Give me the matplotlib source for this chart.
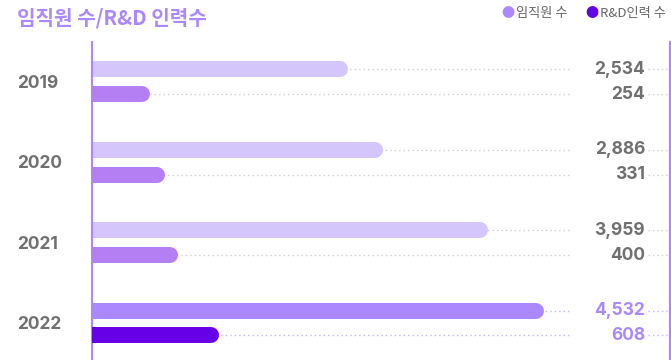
import matplotlib
matplotlib.use("Agg")
import matplotlib.pyplot as plt
from matplotlib.transforms import blended_transform_factory

plt.rcParams['font.family'] = ['Noto Sans CJK KR', 'DejaVu Sans']

years = ["2019", "2020", "2021", "2022"]
employees = [2534, 2886, 3959, 4532]
rnd_staff = [254, 331, 400, 608]
value_labels_emp = ["2,534", "2,886", "3,959", "4,532"]
value_labels_rnd = ["254", "331", "400", "608"]

emp_colors = ["#d4c5fb", "#d4c5fb", "#d4c5fb", "#ab88fd"]
rnd_colors = ["#b47ff2", "#b47ff2", "#b47ff2", "#6600e6"]
text_colors = ["#707070", "#707070", "#707070", "#ab88fd"]
dot_colors = ["#cfcfcf", "#cfcfcf", "#cfcfcf", "#c7b2fc"]

W, H, DPI = 671, 360, 100
fig = plt.figure(figsize=(W / DPI, H / DPI), dpi=DPI)

left_px, right_px, top_px = 92, 670, 42
ax = fig.add_axes([left_px / W, 0, (right_px - left_px) / W, (H - top_px) / H])
ax2 = ax.twiny()
for a in (ax, ax2):
    a.set_ylim(3.46, -0.497)
    a.axis("off")
ax.set_xlim(0, 5900)
ax2.set_xlim(0, 2950)

tr = blended_transform_factory(ax.transAxes, ax.transData)

bar_lw = 16 * 72 / DPI
off = 0.155
dot_end = 0.825
tail_start = 0.962
label_x = 0.957

for i in range(len(years)):
    for y in (i - off, i + off):
        ax.plot([0, dot_end], [y, y], transform=tr, color=dot_colors[i], lw=1.0,
                linestyle=(0, (1, 2.2)), zorder=1, clip_on=False)
        ax.plot([tail_start, 1.0], [y, y], transform=tr, color=dot_colors[i], lw=1.0,
                linestyle=(0, (1, 2.2)), zorder=1, clip_on=False)

    # bars: round cap on the right, clipped flat at the axis line
    ax.plot([0, employees[i]], [i - off, i - off], color=emp_colors[i], lw=bar_lw,
            solid_capstyle="round", zorder=3, clip_on=True)
    ax2.plot([0, rnd_staff[i]], [i + off, i + off], color=rnd_colors[i], lw=bar_lw,
             solid_capstyle="round", zorder=3, clip_on=True)

    ax.text(label_x, i - off, value_labels_emp[i], transform=tr, ha="right", va="center",
            fontsize=12.5, fontweight="bold", color=text_colors[i], family="Inter")
    ax.text(label_x, i + off, value_labels_rnd[i], transform=tr, ha="right", va="center",
            fontsize=12.5, fontweight="bold", color=text_colors[i], family="Inter")

    ax.text(-75 / (right_px - left_px), i + 0.02, years[i], transform=tr, ha="left", va="center",
            fontsize=12.5, fontweight="bold", color="#707070", family="Inter")

# frame lines
ax.axvline(0, color="#ab88fd", lw=1.5, zorder=4, clip_on=False)
ax.plot([1, 1], [0, 1], transform=ax.transAxes, color="#ab88fd", lw=1.6, zorder=4, clip_on=False)

fig.text(17 / W, 1 - 18 / H, "임직원 수/R&D 인력수", ha="left", va="center",
         fontsize=14.5, fontweight="bold", color="#ab88fd")

# legend
leg_y = 1 - 14 / H
fig.text(515 / W, leg_y, "●", ha="right", va="center", fontsize=9.5, color="#ab88fd")
fig.text(516 / W, leg_y, "임직원 수", ha="left", va="center", fontsize=9.5, color="#666666")
fig.text(599 / W, leg_y, "●", ha="right", va="center", fontsize=9.5, color="#6600e6")
fig.text(600 / W, leg_y, "R&D인력 수", ha="left", va="center", fontsize=9.5, color="#666666")

fig.savefig("out.png", dpi=DPI)
